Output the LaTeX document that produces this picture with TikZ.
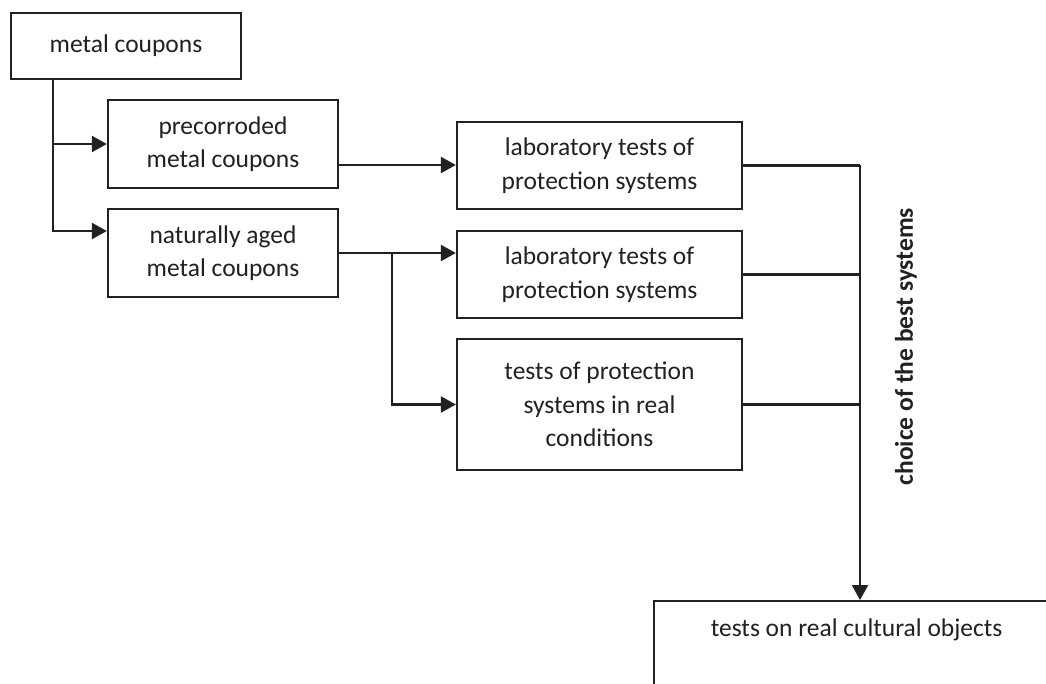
\documentclass[tikz,border=0pt]{standalone}
\usepackage{fontspec}
\setmainfont{Carlito}
\usetikzlibrary{arrows.meta}
\definecolor{ink}{gray}{0.13}
\tikzset{
  box/.style={draw=ink, line width=2.3pt, align=center, text=ink, inner sep=0pt,
              font=\fontsize{25.5}{33.5}\selectfont},
  conn/.style={draw=ink, line width=2.3pt},
  arr/.style={conn, -{Triangle[length=15pt,width=16pt]}},
}
\begin{document}
\begin{tikzpicture}[x=1pt,y=-1pt]
\clip (0,0) rectangle (1046,684);
\fill[white] (0,0) rectangle (1046,684);
\node[box, minimum width=230pt, minimum height=66pt] (mc) at (126,46) {metal coupons};
\node[box, minimum width=230pt, minimum height=88pt] (pre) at (223,144) {precorroded\\metal coupons};
\node[box, minimum width=230pt, minimum height=88pt] (nat) at (223,253) {naturally aged\\metal coupons};
\node[box, minimum width=285pt, minimum height=87pt] (lab1) at (599.5,165.5) {laboratory tests of\\protection systems};
\node[box, minimum width=285pt, minimum height=87pt] (lab2) at (599.5,274.5) {laboratory tests of\\protection systems};
\node[box, minimum width=285pt, minimum height=131pt] (real) at (599.5,404.5) {tests of protection\\systems in real\\conditions};
\node[box, anchor=north west, minimum width=405pt, text height=20pt, text depth=200pt, inner ysep=15pt] (obj) at (653,600) {tests on real cultural objects};
\node[text=ink, rotate=90, font=\fontsize{25.5}{30}\selectfont\bfseries] (lbl) at (906,346.5) {choice of the best systems};
\coordinate (br) at (392,253);
\coordinate (jn) at (860,165.5);
% left tree
\draw[arr] ([xshift=43pt]mc.south west) |- (pre.west);
\draw[arr] ([xshift=43pt]mc.south west) |- ([yshift=22pt]nat.west);
% to lab tests
\draw[arr] ([yshift=-21pt]pre.east) -- ([yshift=-21pt]pre.east -| lab1.west);
\draw[arr] (nat.east) -- (nat.east -| lab2.west);
\draw[arr] (br) |- (real.west);
% collector
\draw[conn] (lab1.east) -- (jn);
\draw[conn] (lab2.east) -- (lab2.east -| jn);
\draw[conn] (real.east) -- (real.east -| jn);
\draw[arr] (jn) -- (jn |- obj.north);
\end{tikzpicture}
\end{document}
